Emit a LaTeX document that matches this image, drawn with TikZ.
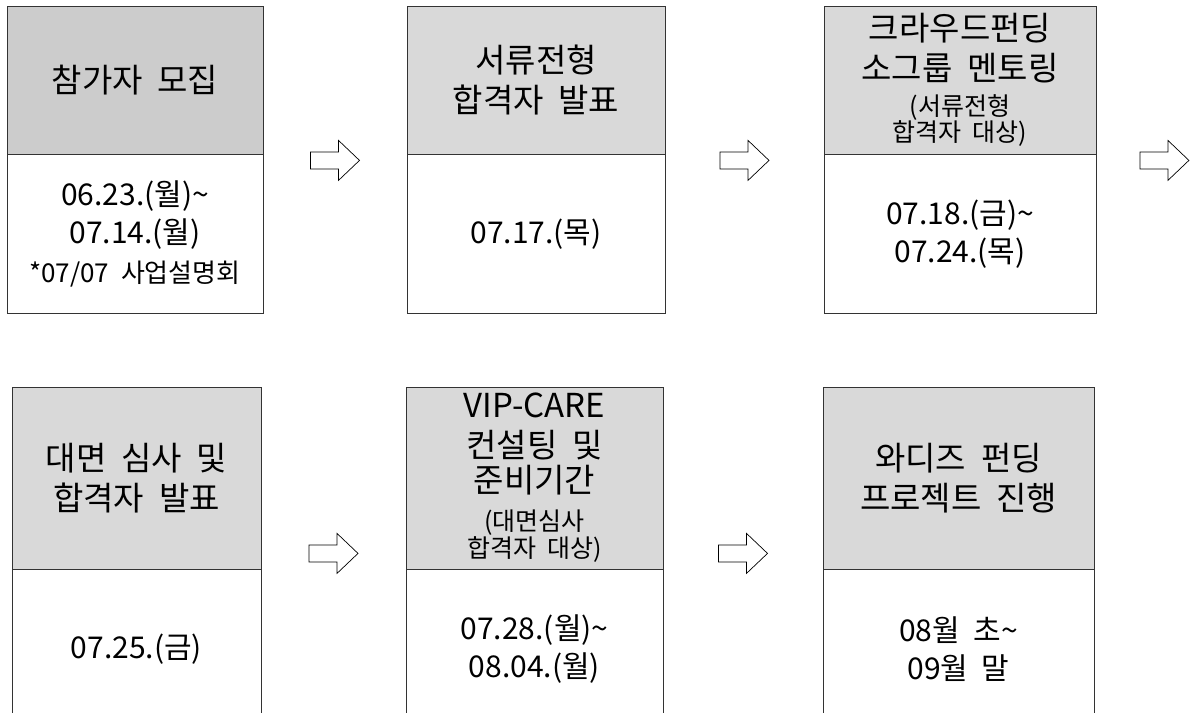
\documentclass[tikz,border=0pt]{standalone}
\usepackage{fontspec}
\setmainfont{Noto Sans CJK KR}[WordSpace=2]
\usetikzlibrary{positioning, calc}

\newcommand{\smalltxt}{\fontsize{25}{28}\selectfont}
\newcommand{\notetxt}{\fontsize{26}{30}\selectfont}

\tikzset{
    stagehead/.style={draw=black!80, line width=0.8pt, fill=black!15, align=center, inner sep=0pt, font=\fontsize{33}{40}\selectfont},
    stagebody/.style={draw=black!80, line width=0.8pt, fill=white, align=center, inner sep=0pt, font=\fontsize{30}{38}\selectfont},
    blockarrow/.pic={
        \draw[black, line width=0.7pt] (-24.5,-8.5) -- (3.5,-8.5) -- (3.5,-20) -- (24.5,0) -- (3.5,20) -- (3.5,8.5) -- (-24.5,8.5) -- cycle;
    }
}

\begin{document}
\begin{tikzpicture}[x=1pt, y=-1pt]
        \useasboundingbox (0, 0) rectangle (1193, 712);

        % first row
        \node (hd1) at (135, 80)[stagehead, fill=black!20, minimum width=256, minimum height=148] {참가자 모집};
        \node (bd1) [below=0pt of hd1, stagebody, minimum width=256, minimum height=159] {06.23.(월)\textasciitilde\\07.14.(월)\\[1pt]{\notetxt *07/07 사업설명회}};

        \node (hd2) at (536, 80)[stagehead, minimum width=258, minimum height=148] {서류전형\\합격자 발표};
        \node (bd2) [below=0pt of hd2, stagebody, minimum width=258, minimum height=159] {07.17.(목)};

        \node (hd3) at (960, 80)[stagehead, minimum width=272, minimum height=148] {크라우드펀딩\\소그룹 멘토링\\[-5pt]{\smalltxt (서류전형}\\[-14pt]{\smalltxt 합격자 대상)}};
        \node (bd3) [below=0pt of hd3, stagebody, minimum width=272, minimum height=159] {07.18.(금)\textasciitilde\\07.24.(목)};

        % second row
        \node (hd4) at (136.5, 478)[stagehead, minimum width=249, minimum height=182] {대면 심사 및\\합격자 발표};
        \node (bd4) [below=0pt of hd4, stagebody, minimum width=249, minimum height=158] {07.25.(금)};

        \node (hd5) at (534.5, 478)[stagehead, minimum width=257, minimum height=182] {VIP-CARE\\컨설팅 및\\[-5pt]준비기간\\[-2pt]{\smalltxt (대면심사}\\[-13pt]{\smalltxt 합격자 대상)}};
        \node (bd5) [below=0pt of hd5, stagebody, minimum width=257, minimum height=158] {07.28.(월)\textasciitilde\\08.04.(월)};

        \node (hd6) at (958.5, 478)[stagehead, minimum width=271, minimum height=182] {와디즈 펀딩\\프로젝트 진행};
        \node (bd6) [below=0pt of hd6, stagebody, minimum width=271, minimum height=158] {08월 초\textasciitilde\\09월 말};

        % flow arrows
        \coordinate (ar1) at ($(hd1.south east)!0.5!(hd2.south west) + (0, 6)$);
        \coordinate (ar2) at ($(hd2.south east)!0.5!(hd3.south west) + (0, 6)$);
        \coordinate (ar3) at ($(hd3.south east) + (68, 6)$);
        \coordinate (ar4) at ($(hd4.south east)!0.5!(hd5.south west) + (0, -16)$);
        \coordinate (ar5) at ($(hd5.south east)!0.5!(hd6.south west) + (0, -16)$);

        \foreach \a in {ar1, ar2, ar3, ar4, ar5}
            \pic at (\a) {blockarrow};
    \end{tikzpicture}
\end{document}
